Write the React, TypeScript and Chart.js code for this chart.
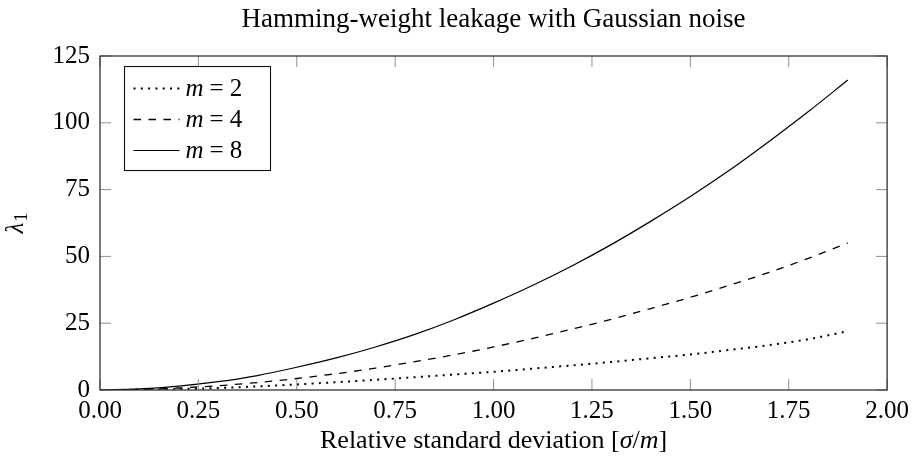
import React, { useEffect, useRef } from "react";
import { Chart, registerables } from "chart.js";

Chart.register(...registerables);

// ---- data ----
const xValues = [0, 0.1, 0.2, 0.3, 0.4, 0.5, 0.6, 0.7, 0.8, 0.9, 1.0, 1.1, 1.2, 1.3, 1.4, 1.5, 1.6, 1.7, 1.8, 1.9];
const m2Values = [0, 0.1, 0.35, 0.75, 1.35, 2.1, 2.9, 3.8, 4.8, 5.8, 6.8, 8.0, 9.2, 10.5, 11.9, 13.3, 15.0, 16.8, 19.0, 22.0];
const m4Values = [0, 0.2, 0.75, 1.6, 2.8, 4.3, 6.1, 8.2, 10.6, 13.2, 16.1, 19.3, 22.8, 26.5, 30.5, 34.7, 39.2, 44.0, 49.3, 55.0];
const m8Values = [0, 0.4, 1.45, 3.1, 5.4, 8.5, 12.0, 16.1, 20.8, 26.3, 32.5, 39.2, 46.5, 54.5, 63.2, 72.4, 82.3, 93.0, 104.2, 116.0];
const seriesM = ["2", "4", "8"];
const xTickStep = 0.25;
const yTickStep = 25;
const titleText = "Hamming-weight leakage with Gaussian noise";

const SERIF = "'Liberation Serif', 'Times New Roman', serif";

const styleOf = [
  { dash: [2, 5.3], width: 2 },
  { dash: [7.5, 7.5], width: 1.3 },
  { dash: [], width: 1.2 },
];

const decorations = {
  id: "decorations",
  afterDatasetsDraw(chart: any) {
    const { ctx, chartArea: a, scales } = chart;
    const xs = scales.x;
    const ys = scales.y;
    ctx.save();
    // inner tick marks on all four sides
    ctx.strokeStyle = "#8f8f8f";
    ctx.lineWidth = 1;
    ctx.beginPath();
    xs.ticks.forEach((t: any) => {
      const px = xs.getPixelForValue(t.value);
      ctx.moveTo(px, a.bottom);
      ctx.lineTo(px, a.bottom - 11);
      ctx.moveTo(px, a.top);
      ctx.lineTo(px, a.top + 11);
    });
    ys.ticks.forEach((t: any) => {
      const py = ys.getPixelForValue(t.value);
      ctx.moveTo(a.left, py);
      ctx.lineTo(a.left + 11, py);
      ctx.moveTo(a.right, py);
      ctx.lineTo(a.right - 11, py);
    });
    ctx.stroke();
    // frame
    ctx.strokeStyle = "#333";
    ctx.lineWidth = 1.3;
    ctx.strokeRect(a.left, a.top, a.right - a.left, a.bottom - a.top);

    // legend box
    const bx = a.left + 24.5;
    const by = a.top + 10.5;
    const bw = 146;
    const bh = 104;
    ctx.fillStyle = "#fff";
    ctx.fillRect(bx, by, bw, bh);
    ctx.strokeStyle = "#111";
    ctx.lineWidth = 1.1;
    ctx.strokeRect(bx, by, bw, bh);
    chart.data.datasets.forEach((ds: any, i: number) => {
      const ly = by + 22 + i * 31;
      ctx.save();
      ctx.strokeStyle = "#000";
      ctx.lineWidth = ds.borderWidth;
      ctx.setLineDash(ds.borderDash || []);
      ctx.beginPath();
      ctx.moveTo(bx + 9, ly);
      ctx.lineTo(bx + 55, ly);
      ctx.stroke();
      ctx.restore();
      ctx.fillStyle = "#000";
      ctx.textBaseline = "alphabetic";
      ctx.textAlign = "left";
      let tx = bx + 61;
      const base = ly + 7;
      ctx.font = `italic 25px ${SERIF}`;
      ctx.fillText("m", tx, base);
      tx += ctx.measureText("m").width + 6;
      ctx.font = `25px ${SERIF}`;
      ctx.fillText("=", tx, base);
      tx += ctx.measureText("=").width + 6;
      ctx.fillText(seriesM[i], tx, base);
    });
    ctx.restore();
  },
  afterDraw(chart: any) {
    const { ctx, chartArea: a } = chart;
    const cx = (a.left + a.right) / 2;
    ctx.save();
    ctx.fillStyle = "#000";
    ctx.textBaseline = "alphabetic";
    // chart title
    ctx.font = `27px ${SERIF}`;
    ctx.textAlign = "center";
    ctx.fillText(titleText, cx, 27);

    // x axis title with italic math
    const parts: [string, boolean][] = [
      ["Relative standard deviation [", false],
      ["\u03c3", true],
      ["/", false],
      ["m", true],
      ["]", false],
    ];
    let total = 0;
    const widths = parts.map(([t, it]) => {
      ctx.font = `${it ? "italic " : ""}26px ${SERIF}`;
      const w = ctx.measureText(t).width;
      total += w;
      return w;
    });
    let x = cx - total / 2;
    ctx.textAlign = "left";
    parts.forEach(([t, it], i) => {
      ctx.font = `${it ? "italic " : ""}26px ${SERIF}`;
      ctx.fillText(t, x, 448);
      x += widths[i];
    });

    // y axis title: lambda_1, rotated
    const cy = (a.top + a.bottom) / 2;
    ctx.translate(23, cy);
    ctx.rotate(-Math.PI / 2);
    ctx.font = `italic 25px ${SERIF}`;
    const wl = ctx.measureText("\u03bb").width;
    ctx.font = `18px ${SERIF}`;
    const w1 = ctx.measureText("1").width;
    const start = -(wl + w1 + 1) / 2;
    ctx.font = `italic 25px ${SERIF}`;
    ctx.fillText("\u03bb", start, 0);
    ctx.font = `18px ${SERIF}`;
    ctx.fillText("1", start + wl + 1, 4);
    ctx.restore();
  },
};

export default function App() {
  const ref = useRef<HTMLCanvasElement | null>(null);

  useEffect(() => {
    if (!ref.current) return;
    const mk = (vals: number[]) => xValues.map((x, i) => ({ x, y: vals[i] }));
    const seriesData = [m2Values, m4Values, m8Values];
    const chart = new Chart(ref.current, {
      type: "line",
      data: {
        datasets: seriesData.map((vals, i) => ({
          label: `m = ${seriesM[i]}`,
          data: mk(vals),
          borderColor: "#000",
          borderWidth: styleOf[i].width,
          borderDash: styleOf[i].dash,
          pointRadius: 0,
          fill: false,
          cubicInterpolationMode: "monotone" as const,
        })),
      },
      options: {
        animation: false,
        responsive: false,
        devicePixelRatio: 1,
        layout: { padding: { top: 56, right: 27, left: 0, bottom: 0 } },
        plugins: {
          legend: { display: false },
          title: { display: false },
          tooltip: { enabled: false },
        },
        scales: {
          x: {
            type: "linear",
            min: 0,
            max: 2,
            grid: { display: false, drawTicks: false, tickLength: 0 },
            border: { display: false },
            ticks: {
              stepSize: xTickStep,
              color: "#000",
              padding: 6,
              maxRotation: 0,
              autoSkip: false,
              font: { family: SERIF, size: 25 },
              callback: (v: any) => Number(v).toFixed(2),
            },
            afterFit: (s: any) => {
              s.height = 74;
            },
          },
          y: {
            type: "linear",
            min: 0,
            max: 125,
            grid: { display: false, drawTicks: false, tickLength: 0 },
            border: { display: false },
            ticks: {
              stepSize: yTickStep,
              color: "#000",
              padding: 10,
              font: { family: SERIF, size: 25 },
            },
            afterFit: (s: any) => {
              s.width = 100;
            },
          },
        },
      },
      plugins: [decorations],
    });
    return () => chart.destroy();
  }, []);

  return (
    <div style={{ position: "fixed", left: 0, top: 0, width: 915, height: 464, background: "#fff" }}>
      <canvas ref={ref} width={915} height={464} style={{ width: 915, height: 464, display: "block" }} />
    </div>
  );
}
